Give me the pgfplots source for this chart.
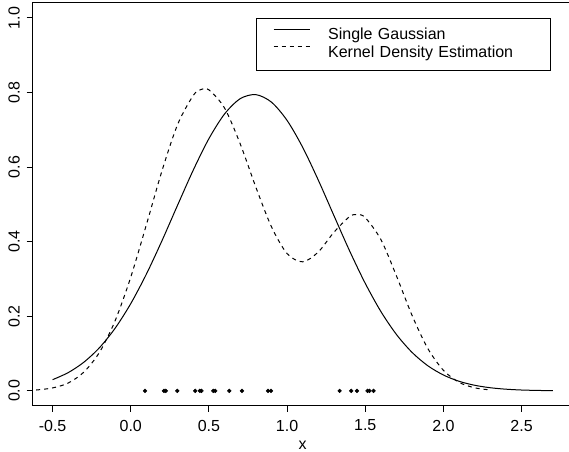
\documentclass[border=0pt]{standalone}
\usepackage{pgfplots}
\pgfplotsset{compat=1.18}
\usepackage{fontspec}
\setmainfont{Liberation Sans}

% 1 px of the reference = 0.75pt
\begin{document}
\fontsize{12}{14.4}\selectfont
\begin{tikzpicture}
\begin{axis}[
  at={(0,0)}, anchor=south west,
  scale only axis, width=405.2pt, height=302.1pt,
  xmin=-0.628, xmax=2.828, ymin=-0.04, ymax=1.04,
  axis line style={black, line width=0.75pt},
  every tick/.style={black, line width=0.75pt},
  tick align=outside, major tick length=4.5pt,
  xtick pos=bottom, ytick pos=left,
  xtick={-0.5,0,0.5,1,1.5,2,2.5},
  xticklabels={-0.5,0.0,0.5,1.0,1.5,2.0,2.5},
  ytick={0,0.2,0.4,0.6,0.8,1},
  yticklabels={0.0,0.2,0.4,0.6,0.8,1.0},
  tick label style={font=\fontsize{12}{14.4}\selectfont},
  xticklabel style={anchor=north, inner sep=0pt},
  yticklabel style={rotate=90, anchor=south, inner sep=0pt},
  xticklabel shift=5.9pt, yticklabel shift=5.0pt,
  xlabel={x},
  xlabel style={at={(axis description cs:0.5,0)}, anchor=center, yshift=-29.4pt,
    font=\fontsize{12}{14.4}\selectfont},
  legend style={
    at={(axis description cs:0.4129,0.9628)}, anchor=north west,
    draw=black, line width=0.75pt, fill=white,
    inner xsep=12.75pt, inner ysep=6.85pt, row sep=1.3pt, column sep=13.5pt,
    font=\fontsize{12}{14.4}\selectfont,
    nodes={inner sep=0pt, text height=9pt, text depth=3pt, text width=153.75pt, align=left},
  },
  legend cell align=left,
  legend image code/.code={\draw[#1] (0pt,4.9pt) -- (27pt,4.9pt);},
]
\addplot[black, line width=0.75pt, smooth] coordinates {
  (-0.5,0.0300) (-0.4,0.0490) (-0.3,0.0769) (-0.2,0.1159) (-0.1,0.1680)
  (0,0.2340) (0.1,0.3132) (0.2,0.4030) (0.3,0.4984) (0.4,0.5922)
  (0.5,0.6764) (0.6,0.7425) (0.7,0.7834) (0.8,0.7943) (0.9,0.7741)
  (1.0,0.7251) (1.1,0.6527) (1.2,0.5647) (1.3,0.4695) (1.4,0.3752)
  (1.5,0.2882) (1.6,0.2127) (1.7,0.1509) (1.8,0.1029) (1.9,0.0674)
  (2.0,0.0425) (2.1,0.0257) (2.2,0.0150) (2.3,0.0084) (2.4,0.0045)
  (2.5,0.0023) (2.6,0.0012) (2.7,0.0005)
};
\addlegendentry{Single Gaussian}
\addplot[black, line width=0.75pt, dash pattern=on 3pt off 3pt, smooth] coordinates {
  (-0.656,0.0012) (-0.6,0.0025) (-0.5,0.0079) (-0.4,0.0211) (-0.3,0.0504)
  (-0.2,0.1035) (-0.1,0.1881) (0,0.3051) (0.1,0.4456) (0.2,0.5905)
  (0.3,0.7146) (0.4,0.7923) (0.45,0.8081) (0.5,0.8071) (0.6,0.7583)
  (0.7,0.6624) (0.8,0.5464) (0.9,0.4400) (1.0,0.3681) (1.1,0.3460)
  (1.2,0.3726) (1.3,0.4255) (1.4,0.4673) (1.45,0.4729) (1.5,0.4644)
  (1.6,0.4057) (1.7,0.3078) (1.8,0.2017) (1.9,0.1137) (2.0,0.0551)
  (2.1,0.0229) (2.2,0.0082) (2.3,0.0025)
};
\addlegendentry{Kernel Density Estimation}
\addplot[only marks, mark=*, mark size=1.4pt, black, forget plot] coordinates {
  (0.091,0) (0.212,0) (0.224,0) (0.298,0) (0.412,0) (0.442,0) (0.452,0)
  (0.528,0) (0.540,0) (0.630,0) (0.711,0) (0.878,0) (0.897,0)
  (1.336,0) (1.410,0) (1.447,0) (1.515,0) (1.527,0) (1.553,0)
};
\end{axis}
\pgfresetboundingbox
\path[use as bounding box] (-24.45pt,-34.65pt) rectangle (402.3pt,304.35pt);
\end{tikzpicture}
\end{document}
